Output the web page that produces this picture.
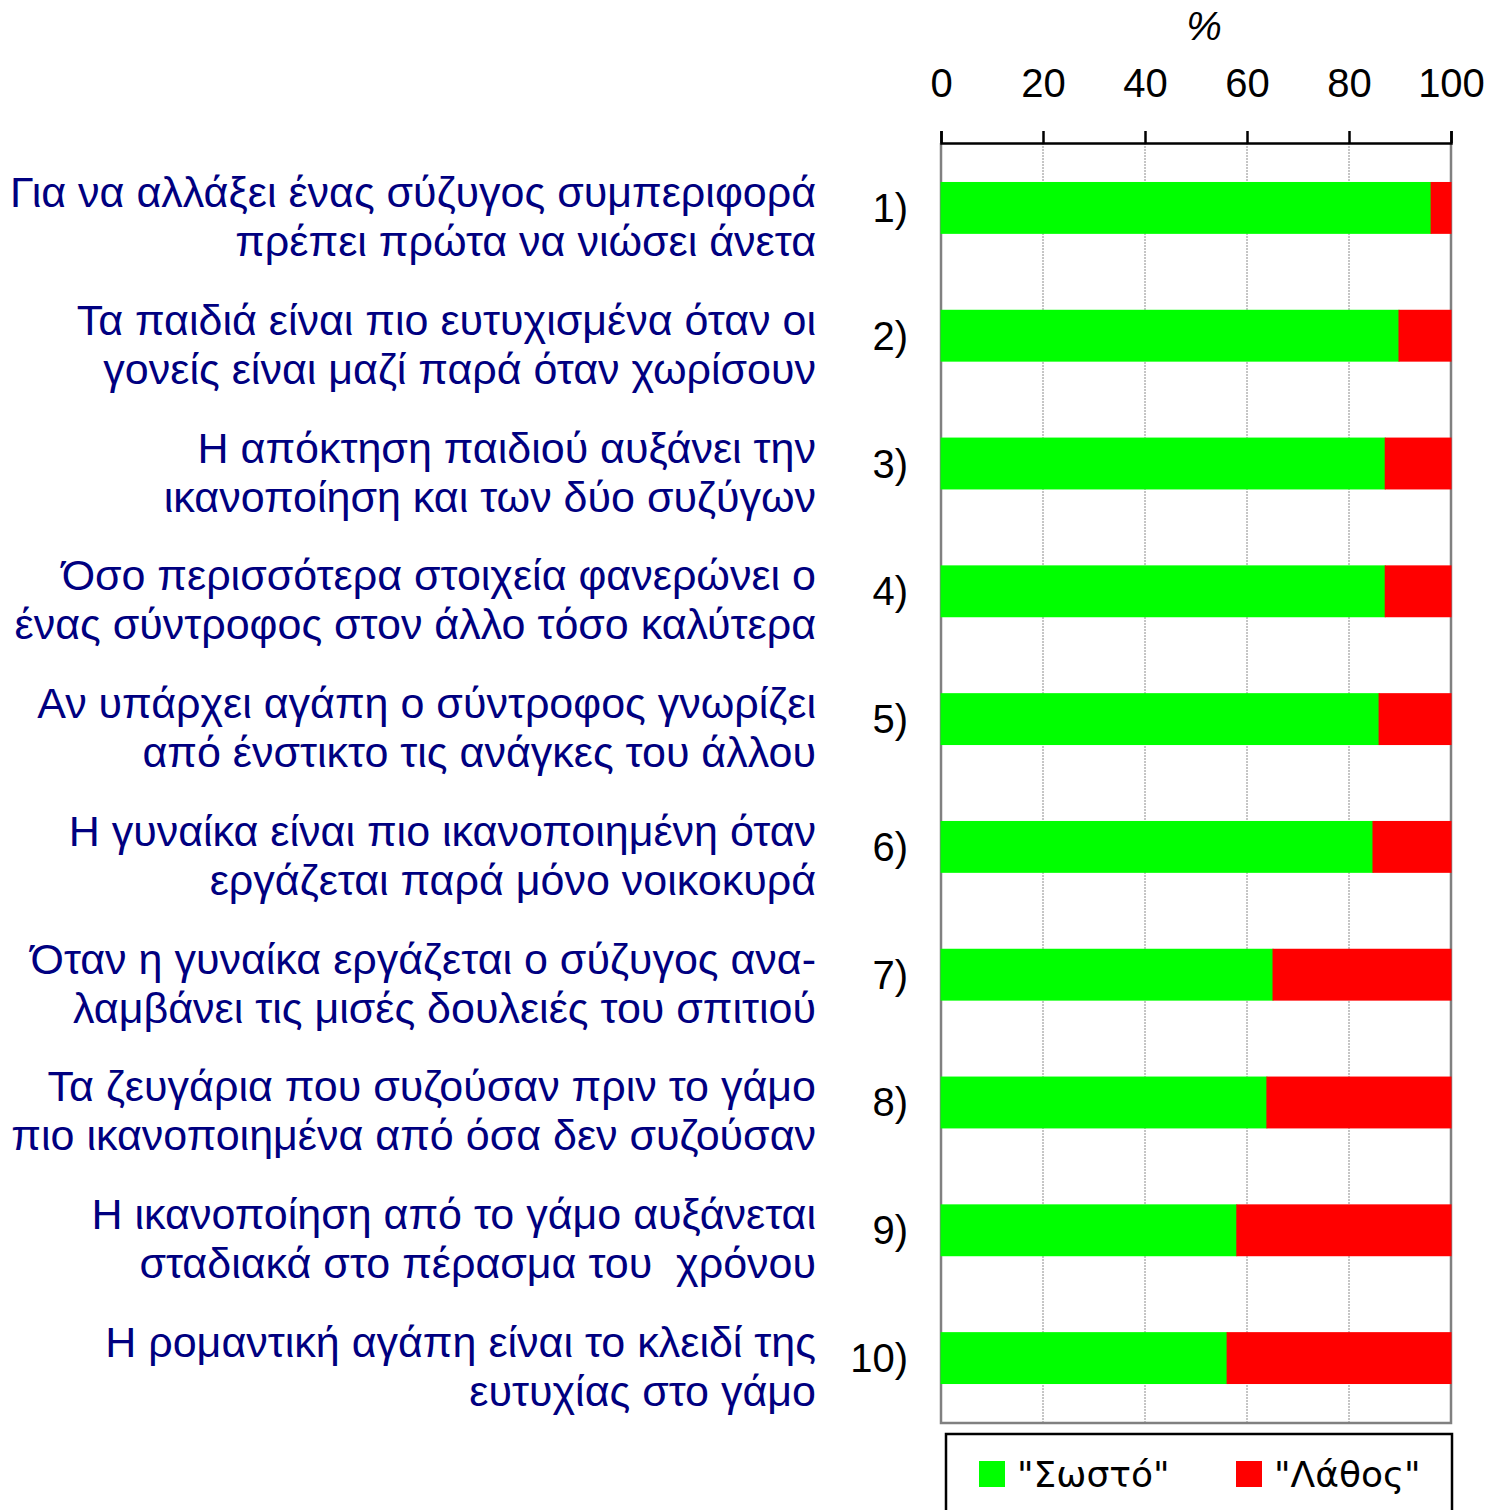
<!DOCTYPE html>
<html>
<head>
<meta charset="utf-8">
<script src="https://cdn.jsdelivr.net/npm/d3@7"></script>
<style>
  body { margin: 0; background: #fff; }
  svg { display: block; }
</style>
</head>
<body>
<script>
const width = 1494,
  height = 1510;

// data
const itemIds = ["1)", "2)", "3)", "4)", "5)", "6)", "7)", "8)", "9)", "10)"];
const statements = [
  ["Για να αλλάξει ένας σύζυγος συμπεριφορά", "πρέπει πρώτα να νιώσει άνετα"],
  ["Τα παιδιά είναι πιο ευτυχισμένα όταν οι", "γονείς είναι μαζί παρά όταν χωρίσουν"],
  ["Η απόκτηση παιδιού αυξάνει την", "ικανοποίηση και των δύο συζύγων"],
  ["Όσο περισσότερα στοιχεία φανερώνει ο", "ένας σύντροφος στον άλλο τόσο καλύτερα"],
  ["Αν υπάρχει αγάπη ο σύντροφος γνωρίζει", "από ένστικτο τις ανάγκες του άλλου"],
  ["Η γυναίκα είναι πιο ικανοποιημένη όταν", "εργάζεται παρά μόνο νοικοκυρά"],
  ["Όταν η γυναίκα εργάζεται ο σύζυγος ανα-", "λαμβάνει τις μισές δουλειές του σπιτιού"],
  ["Τα ζευγάρια που συζούσαν πριν το γάμο", "πιο ικανοποιημένα από όσα δεν συζούσαν"],
  ["Η ικανοποίηση από το γάμο αυξάνεται", "σταδιακά στο πέρασμα του  χρόνου"],
  ["Η ρομαντική αγάπη είναι το κλειδί της", "ευτυχίας στο γάμο"]
];
const correct = [96.1, 89.8, 87.1, 87.1, 85.9, 84.7, 65.1, 63.9, 58.0, 56.1];
const wrong = correct.map(v => 100 - v);
const seriesNames = ['"Σωστό"', '"Λάθος"'];
const seriesColors = ["#00ff00", "#ff0000"];
const xTicks = [0, 20, 40, 60, 80, 100];

const rows = itemIds.map((id, i) => ({
  id: id,
  lines: statements[i],
  correct: correct[i],
  wrong: wrong[i]
}));

const plot = { left: 941, right: 1451, top: 143, bottom: 1423 };

const xScale = d3
  .scaleLinear()
  .domain([0, 100])
  .range([plot.left, plot.right]);

const yScale = d3
  .scaleBand()
  .domain(itemIds)
  .range([plot.top, plot.bottom])
  .paddingInner(0.594)
  .paddingOuter(0.305);

const stack = d3.stack().keys(["correct", "wrong"]);
const stacked = stack(rows);

const svg = d3
  .select("body")
  .append("svg")
  .attr("width", width)
  .attr("height", height)
  .attr("font-family", "'Liberation Sans', Arial, sans-serif");

// gridlines
svg
  .append("g")
  .attr("class", "grid")
  .selectAll("line")
  .data(xTicks.slice(1, -1))
  .enter()
  .append("line")
  .attr("x1", d => xScale(d))
  .attr("x2", d => xScale(d))
  .attr("y1", plot.top)
  .attr("y2", plot.bottom)
  .attr("stroke", "#8c8c8c")
  .attr("stroke-width", 1)
  .attr("stroke-dasharray", "2,1");

// plot frame (left, right, bottom)
svg
  .append("path")
  .attr(
    "d",
    `M${plot.left},${plot.top}V${plot.bottom}H${plot.right}V${plot.top}`
  )
  .attr("fill", "none")
  .attr("stroke", "#808080")
  .attr("stroke-width", 2.5);

// bars
svg
  .append("g")
  .selectAll("g")
  .data(stacked)
  .enter()
  .append("g")
  .attr("fill", (d, i) => seriesColors[i])
  .selectAll("rect")
  .data(d => d)
  .enter()
  .append("rect")
  .attr("x", d => xScale(d[0]) - 0.5)
  .attr("y", d => yScale(d.data.id))
  .attr("width", d => xScale(d[1]) - xScale(d[0]) + 1)
  .attr("height", yScale.bandwidth());

// top axis
const xAxis = d3
  .axisTop(xScale)
  .tickValues(xTicks)
  .tickSize(12)
  .tickPadding(34);

const axisG = svg
  .append("g")
  .attr("transform", `translate(0,${plot.top})`)
  .call(xAxis);

axisG.selectAll("path, line").attr("stroke", "#000").attr("stroke-width", 2.5);
axisG
  .selectAll("text")
  .attr("font-size", 40)
  .attr("font-family", "'Liberation Sans', Arial, sans-serif")
  .attr("fill", "#000");

svg
  .append("text")
  .attr("x", xScale(50) + 8)
  .attr("y", 40)
  .attr("text-anchor", "middle")
  .attr("font-size", 40)
  .attr("font-style", "italic")
  .text("%");

// item numbers
svg
  .append("g")
  .selectAll("text")
  .data(rows)
  .enter()
  .append("text")
  .attr("x", 908)
  .attr("y", d => yScale(d.id) + yScale.bandwidth() / 2 + 14)
  .attr("text-anchor", "end")
  .attr("font-size", 40)
  .attr("fill", "#000")
  .text(d => d.id);

// statement labels
const labels = svg
  .append("g")
  .selectAll("text")
  .data(rows)
  .enter()
  .append("text")
  .attr("text-anchor", "end")
  .attr("font-size", 43)
  .attr("fill", "#000080")
  .style("white-space", "pre");

labels
  .selectAll("tspan")
  .data(d => d.lines.map((l, j) => ({ l, j, id: d.id })))
  .enter()
  .append("tspan")
  .attr("x", 816)
  .attr("y", d => yScale(d.id) + yScale.bandwidth() / 2 - 1 + d.j * 49)
  .text(d => d.l);

// legend
const legend = svg.append("g").attr("transform", "translate(946,1434)");
legend
  .append("rect")
  .attr("width", 506)
  .attr("height", 100)
  .attr("fill", "none")
  .attr("stroke", "#000")
  .attr("stroke-width", 2.5);

const legendItems = legend
  .selectAll("g")
  .data(seriesNames)
  .enter()
  .append("g")
  .attr("transform", (d, i) => `translate(${33 + i * 257},27)`);

legendItems
  .append("rect")
  .attr("width", 26)
  .attr("height", 26)
  .attr("fill", (d, i) => seriesColors[i]);

legendItems
  .append("text")
  .attr("x", 38)
  .attr("y", 26)
  .attr("font-family", "'DejaVu Sans', Verdana, sans-serif")
  .attr("font-size", 36)
  .attr("fill", "#000")
  .text(d => d);
</script>
</body>
</html>
